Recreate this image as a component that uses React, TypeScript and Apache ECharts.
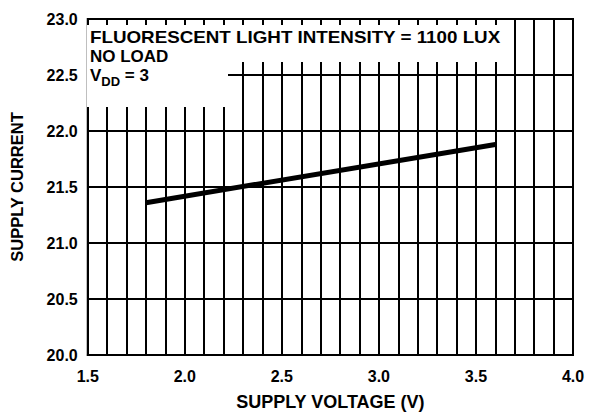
import React, { useEffect, useRef } from "react";
import * as echarts from "echarts";

const voltage = [1.8, 3.6];
const current = [21.36, 21.88];
const xTicks = [1.5, 2.0, 2.5, 3.0, 3.5, 4.0];
const yTicks = [20.0, 20.5, 21.0, 21.5, 22.0, 22.5, 23.0];

const FONT = "'Liberation Sans', Arial, Helvetica, sans-serif";

export default function App() {
  const ref = useRef<HTMLDivElement>(null);
  useEffect(() => {
    if (!ref.current) return;
    const chart = echarts.init(ref.current, null, { renderer: "svg" });
    const axisText = { color: "#000", fontWeight: "bold", fontSize: 16, fontFamily: FONT, lineHeight: 16 };
    const gl = { color: "#000", width: 2 };
    chart.setOption({
      animation: false,
      backgroundColor: "#fff",
      grid: {
        left: 86,
        right: 17,
        top: 19,
        bottom: 61,
        show: true,
        borderColor: "#000",
        borderWidth: 2,
        backgroundColor: "transparent",
      },
      xAxis: {
        type: "value",
        min: xTicks[0],
        max: xTicks[xTicks.length - 1],
        interval: 0.5,
        name: "SUPPLY VOLTAGE (V)",
        nameLocation: "middle",
        nameGap: 38,
        nameTextStyle: { ...axisText, fontSize: 18, lineHeight: 18 },
        axisLine: { show: true, lineStyle: { color: "#000", width: 2 } },
        axisTick: { show: false },
        axisLabel: { ...axisText, margin: 13, formatter: (v: number) => v.toFixed(1) },
        splitLine: { show: true, lineStyle: gl },
        minorTick: { show: false, splitNumber: 5 },
        minorSplitLine: { show: true, lineStyle: gl },
      },
      yAxis: {
        type: "value",
        min: yTicks[0],
        max: yTicks[yTicks.length - 1],
        interval: 0.5,
        name: "SUPPLY CURRENT",
        nameLocation: "middle",
        nameGap: 63,
        nameTextStyle: { ...axisText, fontSize: 16.5, lineHeight: 16.5 },
        axisLine: { show: true, lineStyle: { color: "#000", width: 2 } },
        axisTick: { show: false },
        axisLabel: { ...axisText, margin: 10, formatter: (v: number) => v.toFixed(1) },
        splitLine: { show: true, lineStyle: gl },
      },
      graphic: [
        {
          type: "rect",
          z: 100,
          shape: { x: 87, y: 25, width: 418, height: 37 },
          style: { fill: "#fff" },
        },
        {
          type: "rect",
          z: 100,
          shape: { x: 87, y: 61, width: 141, height: 46 },
          style: { fill: "#fff" },
        },
        {
          type: "text",
          z: 101,
          x: 90,
          y: 29,
          scaleX: 1.105,
          style: {
            text: "FLUORESCENT LIGHT INTENSITY = 1100 LUX",
            font: `bold 17px ${FONT}`,
            fill: "#000",
            verticalAlign: "top",
          },
        },
        {
          type: "text",
          z: 101,
          x: 90,
          y: 48,
          style: {
            text: "NO LOAD",
            font: `bold 17px ${FONT}`,
            fill: "#000",
            verticalAlign: "top",
          },
        },
        {
          type: "text",
          z: 101,
          x: 90,
          y: 67,
          style: {
            text: "{b|V}{s|DD}{b| = 3}",
            fill: "#000",
            verticalAlign: "top",
            rich: {
              b: { font: `bold 17px ${FONT}`, fill: "#000", verticalAlign: "top", lineHeight: 17, height: 17, padding: [0, 0, 6, 0] },
              s: { font: `bold 13px ${FONT}`, fill: "#000", verticalAlign: "top", lineHeight: 13, height: 13, padding: [8, 0, 2, 0] },
            },
          },
        },
      ],
      series: [
        {
          type: "line",
          data: voltage.map((v, i) => [v, current[i]]),
          symbol: "none",
          lineStyle: { color: "#000", width: 5 },
          z: 5,
        },
      ],
    });
    return () => chart.dispose();
  }, []);
  return <div ref={ref} style={{ position: "fixed", left: 0, top: 0, width: 590, height: 416 }} />;
}
